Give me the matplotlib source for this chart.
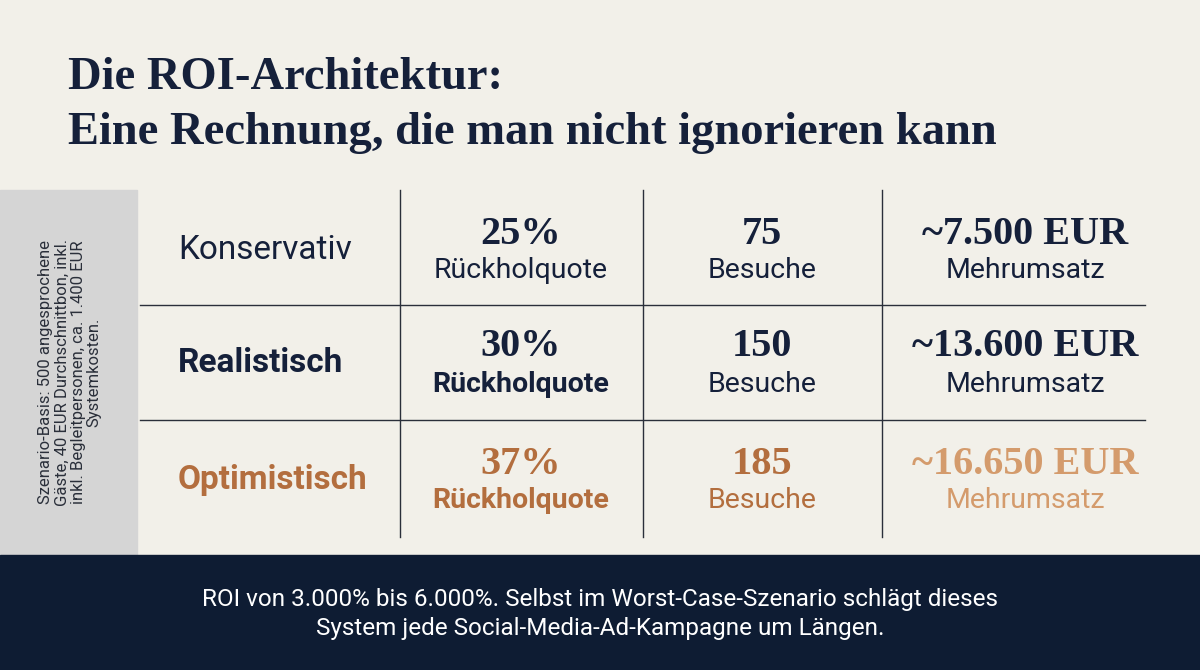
import matplotlib
matplotlib.use("Agg")
import matplotlib.pyplot as plt
from matplotlib.patches import Rectangle

title = ["Die ROI-Architektur:", "Eine Rechnung, die man nicht ignorieren kann"]
rows = ["Konservativ", "Realistisch", "Optimistisch"]
quoten = ["25%", "30%", "37%"]
besuche = ["75", "150", "185"]
umsatz = ["~7.500 EUR", "~13.600 EUR", "~16.650 EUR"]
sub = ["Rückholquote", "Besuche", "Mehrumsatz"]
side = "Szenario-Basis: 500 angesprochene\nGäste, 40 EUR Durchschnittbon, inkl.\ninkl. Begleitpersonen, ca. 1.400 EUR\nSystemkosten."
footer = "ROI von 3.000% bis 6.000%. Selbst im Worst-Case-Szenario schlägt dieses\nSystem jede Social-Media-Ad-Kampagne um Längen."

navy = "#15203A"
orange = "#B36E3E"
lorange = "#D49B6C"
bg = "#F2F0E9"

fig = plt.figure(figsize=(12, 6.7), dpi=100, facecolor=bg)
ax = fig.add_axes([0, 0, 1, 1])
ax.set_xlim(0, 1200); ax.set_ylim(670, 0); ax.axis("off")

serif = ["Liberation Serif", "DejaVu Serif"]
for i, t in enumerate(title):
    ax.text(68, 78 + i * 55, t, fontsize=33.5, fontweight="bold", family=serif,
            color=navy, va="center", ha="left")

ax.add_patch(Rectangle((0, 190), 137, 365, color="#D5D5D5", zorder=0))
ax.text(70, 372, side, rotation=90, fontsize=12, color="#2A2F3A", ha="center",
        va="center", linespacing=1.1, family="Roboto")

ax.add_patch(Rectangle((0, 555), 1200, 115, color="#0E1C33", zorder=0))
ax.text(600, 614, footer, fontsize=17.5, color="white", ha="center", va="center",
        linespacing=1.3, family="Roboto")

for x in [400, 643, 882]:
    ax.plot([x, x], [190, 537], color="#2A2F3A", lw=1)
for y in [305, 420]:
    ax.plot([140, 1145], [y, y], color="#2A2F3A", lw=1)

centers = [250, 363, 480]
cols = [521, 762, 1025]
for r, yc in enumerate(centers):
    if r == 2:
        lc, w = orange, "bold"
        vc = [orange, orange, lorange]; sc = [orange, orange, lorange]
    else:
        lc, w = navy, ("normal" if r == 0 else "bold")
        vc = [navy] * 3; sc = [navy] * 3
    sw = ["normal" if r == 0 else "bold", "normal", "normal"]
    ax.text(178, yc, rows[r], fontsize=24, fontweight=w, color=lc, family="Roboto",
            ha="left", va="center")
    vals = [quoten[r], besuche[r], umsatz[r]]
    for k, x in enumerate(cols):
        ax.text(x, yc - 16, vals[k], fontsize=29, fontweight="bold", family=serif,
                color=vc[k], ha="center", va="center")
        ax.text(x, yc + 21, sub[k], fontsize=20.5, fontweight=sw[k], family="Roboto",
                color=sc[k], ha="center", va="center")

fig.savefig("out.png", dpi=100, facecolor=bg)
